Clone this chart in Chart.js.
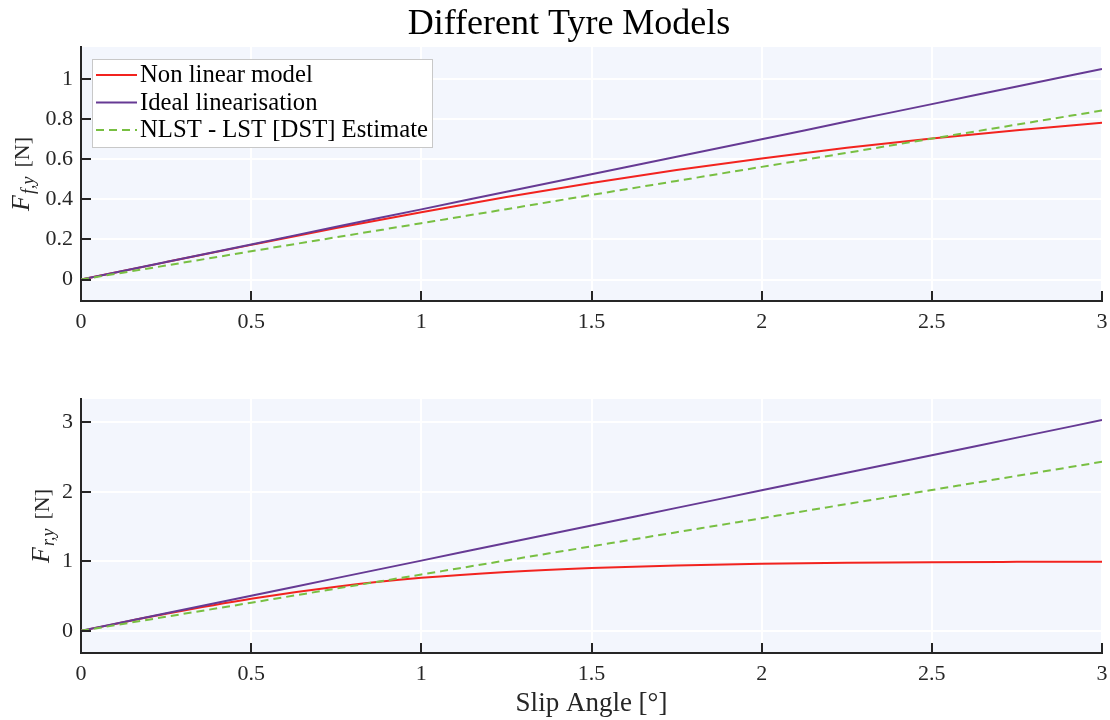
<!DOCTYPE html>
<html>
<head>
    <meta charset="utf-8" />
    <title>Different Tyre Models</title>
    <style>
        body { margin: 0; background: #fff; }
        #wrap { position: relative; width: 1110px; height: 720px; }
        canvas { position: absolute; left: 0; }
    </style>
</head>
<body>
    <div id="wrap">
        <canvas id="frontChart" width="1110" height="345" style="top:0;"></canvas>
        <canvas id="rearChart" width="1110" height="375" style="top:345px;"></canvas>
    </div>

    <script src="https://cdn.jsdelivr.net/npm/chart.js@4"></script>
    <script>
        // slip angle in degrees
        const slipAngles = [0, 0.25, 0.5, 0.75, 1, 1.25, 1.5, 1.75, 2, 2.25, 2.5, 2.75, 3];

        // front axle lateral force
        const frontNonLinear = [0, 0.087, 0.173, 0.257, 0.336, 0.412, 0.482, 0.546, 0.604, 0.657, 0.704, 0.745, 0.782];
        const frontIdeal = [0, 0.088, 0.175, 0.263, 0.35, 0.438, 0.525, 0.613, 0.7, 0.788, 0.875, 0.963, 1.05];
        const frontEstimate = [0, 0.07, 0.141, 0.211, 0.281, 0.351, 0.422, 0.492, 0.562, 0.632, 0.703, 0.773, 0.843];

        // rear axle lateral force
        const rearNonLinear = [0, 0.245, 0.462, 0.635, 0.762, 0.848, 0.905, 0.941, 0.964, 0.978, 0.987, 0.992, 0.995];
        const rearIdeal = [0, 0.253, 0.505, 0.758, 1.01, 1.263, 1.515, 1.768, 2.02, 2.273, 2.525, 2.778, 3.03];
        const rearEstimate = [0, 0.203, 0.405, 0.608, 0.81, 1.013, 1.215, 1.418, 1.62, 1.823, 2.025, 2.228, 2.43];

        const xTicks = [0, 0.5, 1, 1.5, 2, 2.5, 3];
        const frontTicks = [0, 0.2, 0.4, 0.6, 0.8, 1];
        const rearTicks = [0, 1, 2, 3];

        const seriesNames = ['Non linear model', 'Ideal linearisation', 'NLST - LST [DST] Estimate'];
        const seriesColors = ['#f2231f', '#663a94', '#78bf42'];

        const SERIF = '"Liberation Serif", "Times New Roman", serif';
        const INK = '#262626';

        const panelDecor = {
            id: 'panelDecor',
            beforeDraw(chart) {
                const a = chart.chartArea;
                const ctx = chart.ctx;
                ctx.save();
                ctx.fillStyle = '#f3f6fd';
                ctx.fillRect(a.left, a.top, a.right - a.left, a.bottom - a.top);
                ctx.restore();
            },
            afterDraw(chart, args, opts) {
                const a = chart.chartArea;
                const ctx = chart.ctx;
                const xs = chart.scales.x, ys = chart.scales.y;

                // inward tick marks
                ctx.save();
                ctx.strokeStyle = INK;
                ctx.lineWidth = 2;
                ctx.beginPath();
                xs.ticks.forEach((t) => {
                    const px = Math.round(xs.getPixelForValue(t.value));
                    ctx.moveTo(px, a.bottom);
                    ctx.lineTo(px, a.bottom - 10);
                });
                ys.ticks.forEach((t) => {
                    const py = Math.round(ys.getPixelForValue(t.value));
                    ctx.moveTo(a.left, py);
                    ctx.lineTo(a.left + 10, py);
                });
                ctx.stroke();
                ctx.restore();

                // y axis label: italic F with subscript, then unit
                const lab = opts.yLabel;
                ctx.save();
                ctx.translate(opts.yLabelX, (a.top + a.bottom) / 2);
                ctx.rotate(-Math.PI / 2);
                ctx.fillStyle = INK;
                ctx.textBaseline = 'alphabetic';
                ctx.font = 'italic 26px ' + SERIF;
                const wMain = ctx.measureText(lab.main).width;
                ctx.font = 'italic 18px ' + SERIF;
                const wSub = ctx.measureText(lab.sub).width;
                ctx.font = '22px ' + SERIF;
                const wUnit = ctx.measureText(lab.unit).width;
                const gap = 9;
                let x0 = -(wMain + 1 + wSub + gap + wUnit) / 2;
                ctx.font = 'italic 26px ' + SERIF;
                ctx.fillText(lab.main, x0, 0);
                ctx.font = 'italic 18px ' + SERIF;
                ctx.fillText(lab.sub, x0 + wMain + 1, 5);
                ctx.font = '22px ' + SERIF;
                ctx.fillText(lab.unit, x0 + wMain + 1 + wSub + gap, 0);
                ctx.restore();

                if (opts.title) {
                    ctx.save();
                    ctx.fillStyle = '#000';
                    ctx.font = '36px ' + SERIF;
                    ctx.textAlign = 'center';
                    ctx.textBaseline = 'alphabetic';
                    ctx.fillText(opts.title, 569, 34);
                    ctx.restore();
                }

                if (opts.xTitle) {
                    ctx.save();
                    ctx.fillStyle = INK;
                    ctx.font = '27px ' + SERIF;
                    ctx.textAlign = 'center';
                    ctx.textBaseline = 'alphabetic';
                    ctx.fillText(opts.xTitle, (a.left + a.right) / 2, a.bottom + 58);
                    ctx.restore();
                }

                if (opts.legend) {
                    const bx = a.left + 11, by = a.top + 12, bw = 341, bh = 89;
                    ctx.save();
                    ctx.fillStyle = '#ffffff';
                    ctx.fillRect(bx, by, bw, bh);
                    ctx.strokeStyle = '#c8c8c8';
                    ctx.lineWidth = 1;
                    ctx.strokeRect(bx + 0.5, by + 0.5, bw - 1, bh - 1);
                    ctx.font = '24.7px ' + SERIF;
                    ctx.textBaseline = 'middle';
                    chart.data.datasets.forEach((ds, i) => {
                        const ry = by + 16 + i * 27.5;
                        ctx.strokeStyle = ds.borderColor;
                        ctx.lineWidth = 2;
                        ctx.setLineDash(ds.borderDash || []);
                        ctx.beginPath();
                        ctx.moveTo(bx + 4, ry);
                        ctx.lineTo(bx + 45, ry);
                        ctx.stroke();
                        ctx.setLineDash([]);
                        ctx.fillStyle = '#000';
                        ctx.fillText(ds.label, bx + 48, ry + 1);
                    });
                    ctx.restore();
                }
            }
        };

        function makeDatasets(nonLinear, ideal, estimate) {
            const values = [nonLinear, ideal, estimate];
            return values.map((vals, i) => ({
                label: seriesNames[i],
                data: slipAngles.map((x, k) => ({ x: x, y: vals[k] })),
                borderColor: seriesColors[i],
                borderWidth: 2,
                borderDash: i === 2 ? [8, 5] : [],
                pointRadius: 0,
                fill: false,
                cubicInterpolationMode: 'monotone',
                order: 3 - i
            }));
        }

        function drawPanel(canvasId, datasets, yMin, yMax, yTicks, areaTop, areaBottom, decor) {
            const canvas = document.getElementById(canvasId);
            const height = canvas.height;
            return new Chart(canvas, {
                type: 'line',
                data: { datasets: datasets },
                options: {
                    responsive: false,
                    animation: false,
                    devicePixelRatio: 1,
                    layout: { padding: { top: areaTop, right: 8, left: 0, bottom: 0 } },
                    plugins: {
                        legend: { display: false },
                        title: { display: false },
                        tooltip: { enabled: false },
                        panelDecor: decor
                    },
                    scales: {
                        x: {
                            type: 'linear',
                            min: 0,
                            max: 3,
                            afterBuildTicks: (scale) => { scale.ticks = xTicks.map((v) => ({ value: v })); },
                            afterFit: (scale) => {
                                scale.height = height - areaBottom;
                                // let the end labels hang over the plot edges
                                scale.paddingLeft = 0;
                                scale.paddingRight = 0;
                            },
                            grid: { color: '#ffffff', lineWidth: 2, drawTicks: false },
                            border: { display: true, color: INK, width: 2 },
                            ticks: {
                                autoSkip: false,
                                maxRotation: 0,
                                padding: 8,
                                color: INK,
                                font: { family: SERIF, size: 22 },
                                callback: (v) => String(v)
                            }
                        },
                        y: {
                            type: 'linear',
                            min: yMin,
                            max: yMax,
                            afterBuildTicks: (scale) => { scale.ticks = yTicks.map((v) => ({ value: v })); },
                            afterFit: (scale) => {
                                scale.width = 81;
                                scale.paddingTop = 0;
                                scale.paddingBottom = 0;
                            },
                            grid: { color: '#ffffff', lineWidth: 2, drawTicks: false },
                            border: { display: true, color: INK, width: 2 },
                            ticks: {
                                padding: 8,
                                color: INK,
                                font: { family: SERIF, size: 22 },
                                callback: (v) => String(v)
                            }
                        }
                    }
                },
                plugins: [panelDecor]
            });
        }

        drawPanel('frontChart', makeDatasets(frontNonLinear, frontIdeal, frontEstimate),
            -0.107, 1.16, frontTicks, 47, 301,
            {
                yLabel: { main: 'F', sub: 'f,y', unit: '[N]' },
                yLabelX: 29,
                title: 'Different Tyre Models',
                legend: true
            });

        drawPanel('rearChart', makeDatasets(rearNonLinear, rearIdeal, rearEstimate),
            -0.318, 3.333, rearTicks, 54, 308,
            {
                yLabel: { main: 'F', sub: 'r,y', unit: '[N]' },
                yLabelX: 49,
                xTitle: 'Slip Angle [°]'
            });
    </script>
</body>
</html>
